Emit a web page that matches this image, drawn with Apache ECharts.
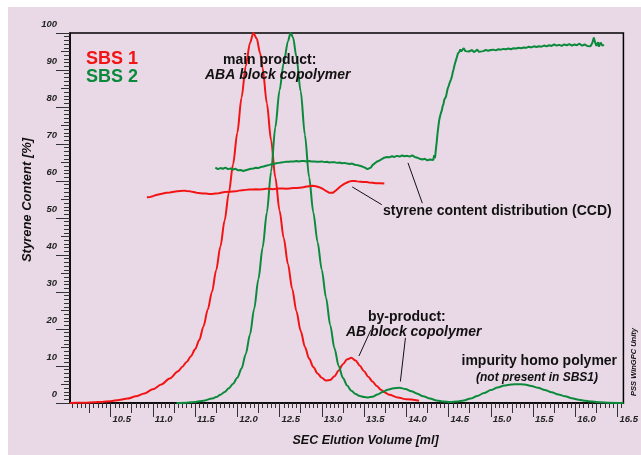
<!DOCTYPE html>
<html><head><meta charset="utf-8">
<script src="https://cdn.jsdelivr.net/npm/echarts@6/dist/echarts.min.js"></script>
<style>
html,body{margin:0;padding:0;background:#fff;}
#bg{position:absolute;left:8px;top:7px;width:633px;height:448px;background:#e9d9e6;}
#chart{position:absolute;left:0;top:0;width:641px;height:455px;}
</style></head>
<body><div id="bg"></div><div id="chart"></div>
<script>
// ---- data ----
const xTickLabels = [10.5, 11.0, 11.5, 12.0, 12.5, 13.0, 13.5, 14.0, 14.5, 15.0, 15.5, 16.0, 16.5];
const yTickLabels = [0, 10, 20, 30, 40, 50, 60, 70, 80, 90, 100];

const secSBS1 = [[10.02,0],[10.1,0.05],[10.2,0.1],[10.3,0.2],[10.4,0.3],[10.5,0.5],[10.6,0.8],[10.7,1.2],[10.8,1.8],[10.9,2.6],[11.0,3.7],[11.1,5.0],[11.2,6.6],[11.3,8.6],[11.35,9.8],[11.4,11.1],[11.45,12.6],[11.5,14.5],[11.55,17.0],[11.6,20.7],[11.65,25.2],[11.7,30.0],[11.75,35.9],[11.8,42.3],[11.85,49.3],[11.9,56.8],[11.95,64.5],[12.0,73.0],[12.05,82.5],[12.1,91.0],[12.15,97.3],[12.19,100],[12.23,98.5],[12.27,94.5],[12.3,90.5],[12.35,81.0],[12.4,71.0],[12.45,61.0],[12.5,52.0],[12.55,44.5],[12.6,37.5],[12.65,30.8],[12.7,24.8],[12.75,19.5],[12.8,15.2],[12.85,12.0],[12.9,9.7],[12.95,8.0],[13.0,6.8],[13.05,6.1],[13.1,6.2],[13.15,7.2],[13.2,8.8],[13.25,10.5],[13.3,11.8],[13.35,12.2],[13.4,11.5],[13.45,10.1],[13.5,8.6],[13.55,7.1],[13.6,5.8],[13.65,4.6],[13.7,3.6],[13.75,2.8],[13.8,2.2],[13.9,1.5],[14.0,1.0],[14.15,0.6]];

const secSBS2 = [[11.28,0],[11.4,0.1],[11.5,0.3],[11.6,0.6],[11.7,1.2],[11.75,1.6],[11.8,2.2],[11.85,3.0],[11.9,4.0],[11.95,5.2],[12.0,6.8],[12.05,9.3],[12.1,13.2],[12.15,18.5],[12.2,25.5],[12.25,33.5],[12.3,42.0],[12.35,51.5],[12.4,62.5],[12.45,74.5],[12.5,84.5],[12.55,92.0],[12.6,97.8],[12.63,100],[12.66,98.8],[12.7,93.5],[12.75,84.3],[12.8,72.5],[12.85,61.0],[12.9,51.5],[12.95,43.5],[13.0,36.0],[13.05,28.5],[13.1,21.0],[13.15,14.8],[13.2,10.0],[13.25,6.8],[13.3,4.7],[13.35,3.3],[13.4,2.4],[13.45,1.9],[13.5,1.6],[13.55,1.5],[13.6,1.7],[13.66,2.3],[13.72,3.0],[13.78,3.6],[13.85,4.0],[13.92,4.1],[13.99,3.8],[14.06,3.2],[14.13,2.5],[14.2,1.8],[14.28,1.2],[14.36,0.7],[14.44,0.4],[14.52,0.3],[14.6,0.4],[14.68,0.7],[14.76,1.2],[14.84,1.9],[14.92,2.7],[15.0,3.5],[15.08,4.2],[15.16,4.7],[15.24,5.0],[15.32,5.1],[15.4,5.0],[15.48,4.6],[15.56,4.1],[15.64,3.5],[15.72,2.9],[15.8,2.3],[15.88,1.8],[15.96,1.3],[16.04,0.9],[16.12,0.6],[16.2,0.4],[16.3,0.2],[16.4,0.1],[16.57,0]];

const ccdSBS1 = [[10.93,55.6],[10.97,55.7],[11.0,55.9],[11.04,56.2],[11.08,56.4],[11.12,56.6],[11.16,56.8],[11.2,56.9],[11.25,57.1],[11.29,57.2],[11.33,57.3],[11.37,57.4],[11.40,57.3],[11.44,57.2],[11.48,57.0],[11.52,56.8],[11.56,56.7],[11.6,56.6],[11.63,56.6],[11.67,56.5],[11.7,56.5],[11.74,56.6],[11.78,56.7],[11.82,56.9],[11.85,57.0],[11.91,57.1],[11.98,57.2],[12.02,57.4],[12.06,57.5],[12.1,57.6],[12.14,57.7],[12.18,57.7],[12.22,57.8],[12.26,57.7],[12.3,57.8],[12.34,57.9],[12.38,57.9],[12.42,57.8],[12.46,57.9],[12.5,58.0],[12.54,58.0],[12.58,57.9],[12.62,58.0],[12.66,58.1],[12.7,58.1],[12.74,58.2],[12.78,58.3],[12.82,58.5],[12.85,58.6],[12.89,58.7],[12.93,58.6],[12.96,58.4],[12.98,58.2],[13.01,57.9],[13.03,57.6],[13.05,57.3],[13.07,57.0],[13.09,56.8],[13.11,56.7],[13.13,56.8],[13.15,57.1],[13.17,57.5],[13.19,58.0],[13.22,58.5],[13.24,58.9],[13.27,59.3],[13.3,59.6],[13.33,59.9],[13.36,60.0],[13.39,60.0],[13.42,59.9],[13.46,59.8],[13.49,59.7],[13.53,59.7],[13.56,59.6],[13.6,59.5],[13.64,59.4],[13.69,59.4],[13.74,59.3]];

const ccdSBS2 = [[11.74,63.6],[11.77,63.2],[11.80,63.5],[11.83,63.3],[11.86,63.6],[11.89,63.2],[11.92,63.4],[11.95,63.1],[11.98,63.3],[12.01,62.9],[12.04,63.0],[12.07,62.7],[12.10,62.9],[12.13,63.1],[12.16,63.3],[12.19,63.4],[12.22,63.6],[12.25,63.5],[12.28,63.8],[12.31,63.9],[12.34,64.1],[12.37,64.3],[12.40,64.5],[12.43,64.6],[12.46,64.8],[12.49,64.9],[12.52,65.0],[12.55,65.1],[12.58,65.2],[12.61,65.2],[12.64,65.3],[12.67,65.3],[12.70,65.4],[12.73,65.3],[12.76,65.4],[12.79,65.4],[12.82,65.3],[12.85,65.4],[12.88,65.3],[12.91,65.3],[12.94,65.2],[12.97,65.2],[13.00,65.3],[13.03,65.1],[13.06,65.2],[13.09,65.0],[13.12,65.1],[13.15,65.1],[13.18,64.9],[13.21,65.0],[13.24,64.8],[13.27,64.9],[13.30,64.7],[13.33,64.6],[13.36,64.7],[13.39,64.4],[13.42,64.3],[13.45,64.1],[13.48,63.9],[13.51,63.6],[13.54,63.2],[13.56,63.0],[13.58,63.6],[13.60,64.3],[13.62,64.8],[13.65,65.2],[13.68,65.5],[13.71,65.9],[13.74,66.3],[13.77,66.5],[13.80,66.4],[13.83,66.7],[13.86,66.5],[13.89,66.8],[13.92,66.6],[13.95,66.9],[13.98,66.7],[14.01,66.8],[14.04,66.6],[14.07,66.9],[14.10,66.5],[14.13,66.3],[14.16,66.0],[14.19,65.8],[14.22,66.0],[14.25,65.6],[14.28,65.8],[14.30,66.2],[14.32,65.7],[14.33,67.0],[14.34,66.2],[14.35,68.5],[14.36,70.5],[14.37,72.9],[14.38,74.8],[14.39,76.5],[14.40,77.5],[14.41,78.4],[14.42,79.0],[14.43,80.2],[14.44,80.8],[14.45,82.0],[14.46,81.6],[14.47,82.8],[14.48,83.9],[14.49,85.0],[14.50,85.6],[14.51,86.3],[14.52,86.9],[14.53,87.5],[14.54,88.2],[14.55,89.4],[14.56,90.2],[14.57,91.2],[14.58,92.0],[14.59,92.8],[14.60,93.6],[14.61,94.4],[14.62,94.1],[14.63,95.0],[14.64,95.6],[14.65,95.0],[14.66,95.4],[14.68,95.9],[14.70,95.1],[14.72,95.6],[14.74,95.0],[14.76,94.6],[14.78,95.4],[14.80,94.8],[14.82,95.0],[14.84,95.5],[14.86,94.9],[14.88,95.3],[14.91,95.1],[14.94,95.4],[14.97,95.2],[15.00,95.4],[15.03,95.5],[15.06,95.3],[15.09,95.6],[15.12,95.5],[15.15,95.7],[15.18,95.6],[15.21,95.8],[15.24,95.6],[15.27,95.9],[15.30,95.8],[15.33,96.0],[15.36,95.9],[15.39,96.1],[15.42,96.0],[15.45,96.3],[15.48,96.1],[15.51,96.4],[15.54,96.2],[15.57,96.4],[15.60,96.3],[15.63,96.6],[15.66,96.4],[15.69,96.7],[15.72,96.5],[15.75,96.9],[15.78,96.6],[15.81,96.8],[15.84,96.5],[15.87,96.9],[15.90,96.7],[15.93,97.0],[15.96,96.6],[15.99,96.9],[16.02,96.7],[16.05,97.1],[16.08,96.6],[16.11,96.9],[16.14,96.5],[16.16,97.0],[16.18,96.4],[16.20,97.2],[16.21,98.0],[16.22,98.8],[16.23,97.8],[16.24,97.6],[16.25,96.5],[16.26,96.2],[16.27,97.5],[16.28,96.3],[16.30,97.4],[16.32,96.6],[16.34,96.8]];

// leader lines (data coordinates) from annotation text to curves
const leaders = [
  [[13.71,53.6],[13.36,58.4]],
  [[14.19,54.0],[14.02,64.9]],
  [[13.58,19.7],[13.44,12.7]],
  [[13.99,17.6],[13.93,5.8]]
];

// ---- layout ----
const XMIN = 10.02, XMAX = 16.57;
const RED = '#f21414', GREEN = '#0b8a3c';
const FONT = '"Liberation Sans", Arial, sans-serif';

function range(a, b, step) {
  const out = [];
  for (let v = a; v <= b + 1e-9; v += step) out.push(Math.round(v * 1000) / 1000);
  return out;
}
const quarterTicks = range(10.25, 16.5, 0.25);
const minorXTicks = range(10.05, 16.55, 0.05);

const tickLabelStyle = { fontFamily: FONT, fontSize: 9.5, fontWeight: 'bold', fontStyle: 'italic', color: '#222' };

function xAx(ticks, len, withLabel, showLine) {
  return {
    type: 'value', min: XMIN, max: XMAX, position: 'bottom', gridIndex: 0,
    axisLine: { show: showLine, onZero: false, lineStyle: { color: '#000', width: 1.5 } },
    axisTick: { show: true, customValues: ticks, length: len, lineStyle: { color: '#333', width: 1 } },
    axisLabel: withLabel ? Object.assign({ show: true, customValues: xTickLabels, align: 'left', margin: 11, padding: [0,0,0,2],
      formatter: v => Number(v).toFixed(1) }, tickLabelStyle) : { show: false },
    splitLine: { show: false }
  };
}

const chart = echarts.init(document.getElementById('chart'), null, { renderer: 'canvas' });
const seriesLine = (data, color, smooth) => ({
  type: 'line', data, showSymbol: false, symbol: 'none', smooth: smooth ? 0.3 : false,
  smoothMonotone: smooth ? 'x' : undefined,
  lineStyle: { color, width: 2 }, itemStyle: { color }, silent: true, animation: false, z: 3
});

const ccd2 = seriesLine(ccdSBS2, GREEN, false);
ccd2.markLine = {
  silent: true, symbol: ['none', 'none'], animation: false,
  label: { show: false },
  lineStyle: { color: '#111', width: 1, type: 'solid' },
  data: leaders.map(l => [{ coord: l[0] }, { coord: l[1] }])
};

const txt = (text, x, y, size, opts) => Object.assign({
  type: 'text', x, y, silent: true, z: 10,
  style: Object.assign({ text, font: `bold ${size}px ${FONT}`, fill: '#111', textAlign: 'left', textVerticalAlign: 'middle' }, opts || {})
});

chart.setOption({
  backgroundColor: 'transparent',
  animation: false,
  grid: { left: 70, right: 16, top: 33, bottom: 52, show: true, borderColor: '#000', borderWidth: 1.5, backgroundColor: 'transparent' },
  xAxis: [
    xAx(xTickLabels, 14, true, true),
    xAx(quarterTicks, 10, false, false),
    xAx(minorXTicks, 5, false, false)
  ],
  yAxis: [
    { type: 'value', min: 0, max: 100, interval: 10, position: 'left',
      axisLine: { show: true, onZero: false, lineStyle: { color: '#000', width: 1.5 } },
      axisTick: { show: true, length: 14, lineStyle: { color: '#333', width: 1 } },
      minorTick: { show: true, splitNumber: 10, length: 6, lineStyle: { color: '#333', width: 1 } },
      axisLabel: Object.assign({ show: true, customValues: yTickLabels, margin: 13, verticalAlign: 'bottom', lineHeight: 10, padding: [0,0,4,0] }, tickLabelStyle),
      splitLine: { show: false }, minorSplitLine: { show: false } },
    { type: 'value', min: 0, max: 100, interval: 5, position: 'left',
      axisLine: { show: false }, axisTick: { show: true, length: 9, lineStyle: { color: '#333', width: 1 } },
      axisLabel: { show: false }, splitLine: { show: false } }
  ],
  series: [
    seriesLine(secSBS1, RED, true),
    seriesLine(secSBS2, GREEN, true),
    seriesLine(ccdSBS1, RED, false),
    ccd2
  ],
  graphic: [
    txt('SBS 1', 86, 58.7, 18, { fill: RED }),
    txt('SBS 2', 86, 76.7, 18, { fill: GREEN }),
    txt('main product:', 223, 60, 14),
    txt('ABA block copolymer', 205, 75, 14, { font: `italic bold 14px ${FONT}` }),
    txt('styrene content distribution (CCD)', 383, 211, 14),
    txt('by-product:', 368, 317, 14),
    txt('AB block copolymer', 346, 332.5, 14, { font: `italic bold 14px ${FONT}` }),
    txt('impurity homo polymer', 461.5, 361.5, 14),
    txt('(not present in SBS1)', 476, 377.5, 12, { font: `italic bold 12px ${FONT}` }),
    txt('SEC Elution Volume [ml]', 292.5, 440.5, 12.5, { font: `italic bold 12.5px ${FONT}` }),
    { type: 'text', x: 27.5, y: 200, rotation: Math.PI / 2, silent: true, z: 10,
      style: { text: 'Styrene Content [%]', font: `italic bold 13px ${FONT}`, fill: '#111', textAlign: 'center', textVerticalAlign: 'middle' } },
    { type: 'text', x: 634, y: 362, rotation: Math.PI / 2, silent: true, z: 10,
      style: { text: 'PSS WinGPC Unity', font: `italic bold 7.5px ${FONT}`, fill: '#111', textAlign: 'center', textVerticalAlign: 'middle' } }
  ]
});
</script></body></html>
